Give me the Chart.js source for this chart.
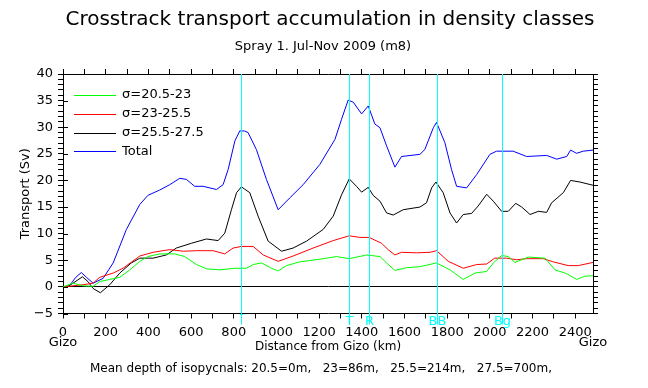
<!DOCTYPE html>
<html>
<head>
<meta charset="utf-8">
<script src="https://cdn.jsdelivr.net/npm/chart.js@4.4.0/dist/chart.umd.min.js"></script>
<style>
  html, body { margin: 0; padding: 0; background: #fff; }
</style>
</head>
<body>
<canvas id="transportChart" width="648" height="388"></canvas>
<script>
// distance along the track (km) and accumulated transport (Sv)
var greenKm = [0, 47, 94, 141, 172, 219, 266, 313, 360, 398, 453, 523, 570, 625, 672, 734, 805, 859, 891, 930, 977, 1008, 1047, 1109, 1203, 1281, 1341, 1422, 1485, 1516, 1555, 1609, 1672, 1750, 1813, 1875, 1930, 1985, 2016, 2055, 2086, 2117, 2180, 2258, 2305, 2359, 2406, 2445, 2483];
var greenSv = [0, 0.7, 0.2, 0.1, 1.0, 1.4, 1.8, 3.2, 4.8, 5.7, 6.2, 6.2, 5.7, 4.2, 3.4, 3.2, 3.5, 3.5, 4.2, 4.5, 3.5, 3.0, 4.0, 4.7, 5.2, 5.7, 5.3, 6.0, 5.7, 4.5, 3.1, 3.6, 3.8, 4.5, 3.2, 1.4, 2.6, 2.9, 4.5, 5.9, 5.7, 4.6, 5.6, 5.4, 3.2, 2.5, 1.4, 2.0, 2.1];

var redKm = [0, 47, 94, 141, 172, 235, 281, 360, 422, 500, 563, 625, 703, 758, 797, 836, 891, 938, 1008, 1078, 1172, 1266, 1341, 1391, 1434, 1492, 1523, 1555, 1586, 1656, 1719, 1750, 1805, 1875, 1938, 1985, 2023, 2078, 2125, 2172, 2250, 2297, 2367, 2414, 2483];
var redSv = [0, 0.2, 0.4, 0.7, 1.8, 2.6, 3.5, 5.8, 6.5, 7.0, 6.7, 6.8, 6.8, 6.2, 7.3, 7.6, 7.6, 6.0, 4.8, 5.8, 7.3, 8.7, 9.6, 9.3, 9.3, 8.2, 7.0, 6.0, 6.5, 6.4, 6.5, 6.8, 4.8, 3.5, 4.2, 4.3, 5.4, 5.4, 5.1, 5.3, 5.3, 4.7, 4.0, 4.0, 4.6];

var blackKm = [0, 20, 47, 91, 117, 141, 175, 219, 266, 320, 360, 422, 484, 531, 602, 672, 727, 758, 789, 813, 836, 875, 914, 961, 1024, 1078, 1141, 1219, 1266, 1305, 1341, 1375, 1399, 1430, 1453, 1485, 1516, 1547, 1594, 1672, 1703, 1727, 1747, 1781, 1813, 1844, 1875, 1914, 1945, 1985, 2016, 2055, 2086, 2121, 2149, 2188, 2227, 2266, 2289, 2344, 2378, 2422, 2483];
var blackSv = [0, 0, 0.7, 1.9, 1.0, -0.3, -1.1, 0.4, 2.6, 4.5, 5.4, 5.4, 6.0, 7.3, 8.2, 9.0, 8.7, 10.1, 14.5, 17.7, 18.8, 17.7, 13.3, 8.6, 6.7, 7.3, 8.6, 10.8, 13.3, 17.3, 20.3, 18.9, 17.8, 18.7, 17.2, 16.1, 13.9, 13.5, 14.5, 15.0, 15.8, 18.6, 19.7, 17.7, 13.9, 12.0, 13.6, 13.8, 15.2, 17.4, 16.1, 14.2, 14.2, 15.7, 15.0, 13.6, 14.2, 14.0, 15.8, 17.7, 20.0, 19.7, 19.1];

var totalKm = [0, 30, 60, 86, 110, 141, 188, 235, 297, 360, 398, 453, 500, 547, 578, 617, 656, 719, 750, 774, 805, 828, 850, 867, 906, 953, 1008, 1062, 1125, 1203, 1274, 1305, 1336, 1360, 1399, 1430, 1461, 1485, 1516, 1555, 1586, 1672, 1695, 1735, 1750, 1789, 1820, 1844, 1891, 1938, 2000, 2031, 2109, 2172, 2266, 2313, 2360, 2378, 2406, 2437, 2483];
var totalSv = [0, 0.2, 1.8, 2.7, 1.8, 0.7, 1.6, 4.5, 10.8, 15.5, 17.2, 18.2, 19.2, 20.4, 20.2, 18.9, 18.9, 18.3, 19.2, 22.1, 27.4, 29.3, 29.3, 29.0, 25.8, 20.2, 14.5, 16.7, 19.2, 23.0, 27.7, 31.5, 35.1, 34.7, 32.5, 34.0, 30.6, 29.9, 26.5, 22.5, 24.5, 24.9, 25.8, 29.9, 30.9, 27.1, 22.1, 18.9, 18.6, 21.1, 24.9, 25.5, 25.5, 24.5, 24.7, 24.0, 24.5, 25.7, 25.1, 25.5, 25.7];

var seriesLabels = ["\u03c3=20.5-23", "\u03c3=23-25.5", "\u03c3=25.5-27.5", "Total"];
var seriesColors = ["#00ff00", "#ff0000", "#000000", "#0000ff"];

// section markers along the track
var markerKm = [833, 1341, 1434, 1753, 2058];
var markerLabels = ["-", "T", "R", "BB", "Bg"];

var xMax = 2483;
var FONT = "'DejaVu Sans', sans-serif";
var THIN = "'DejaVu Sans ExtraLight', 'DejaVu Sans', sans-serif";

function pairs(xs, ys) {
    return xs.map(function (x, i) { return { x: x, y: ys[i] }; });
}

var extras = {
    id: "extras",
    afterDatasetsDraw: function (chart) {
        var ctx = chart.ctx;
        var x = chart.scales.x;
        var y = chart.scales.y;
        var area = chart.chartArea;
        ctx.save();

        // major y ticks also poke into the plot
        ctx.strokeStyle = "#000";
        ctx.lineWidth = 1;
        for (var v = -5; v <= 40; v += 5) {
            var py = Math.round(y.getPixelForValue(v)) + 0.5;
            ctx.beginPath();
            ctx.moveTo(area.left, py);
            ctx.lineTo(area.left + 5, py);
            ctx.stroke();
        }

        ctx.strokeStyle = "#00ffff";
        ctx.fillStyle = "#00ffff";
        ctx.font = "13px " + FONT;
        ctx.textAlign = "center";
        markerKm.forEach(function (km, i) {
            var px = Math.round(x.getPixelForValue(km)) + 0.5;
            ctx.beginPath();
            ctx.moveTo(px, area.top);
            ctx.lineTo(px, area.bottom + 11);
            ctx.stroke();
            if (i === 0) {
                ctx.textBaseline = "middle";
                ctx.fillText(markerLabels[i], px, area.bottom + 1.5);
            } else {
                ctx.textBaseline = "alphabetic";
                ctx.fillText(markerLabels[i], px, area.bottom + 11);
            }
        });
        ctx.restore();
    },
    afterDraw: function (chart) {
        var ctx = chart.ctx;
        var area = chart.chartArea;
        var x = chart.scales.x;
        ctx.save();
        ctx.fillStyle = "#000";
        ctx.textAlign = "center";
        ctx.textBaseline = "middle";

        ctx.font = "20px " + THIN;
        ctx.fillText("Crosstrack transport accumulation in density classes", 330, 20);
        ctx.font = "13px " + FONT;
        ctx.fillText("Spray 1. Jul-Nov 2009 (m8)", 323, 47);

        ctx.fillText("Gizo", x.getPixelForValue(0), 343);
        ctx.fillText("Gizo", x.getPixelForValue(xMax), 343);

        ctx.font = "12px " + FONT;
        ctx.fillText("Distance from Gizo (km)", 328, 347);
        ctx.fillText("Mean depth of isopycnals: 20.5=0m,   23=86m,   25.5=214m,   27.5=700m,", 321, 369);

        ctx.save();
        ctx.translate(26, (area.top + area.bottom) / 2);
        ctx.rotate(-Math.PI / 2);
        ctx.font = "13px " + FONT;
        ctx.fillText("Transport (Sv)", 0, 0);
        ctx.restore();

        // legend inside the plot
        ctx.font = "13px " + FONT;
        ctx.textAlign = "left";
        chart.data.datasets.forEach(function (ds, i) {
            var ly = 95 + i * 18.8;
            ctx.strokeStyle = ds.borderColor;
            ctx.lineWidth = 1;
            ctx.beginPath();
            ctx.moveTo(74, Math.round(ly) + 0.5);
            ctx.lineTo(116, Math.round(ly) + 0.5);
            ctx.stroke();
            ctx.fillStyle = "#000";
            ctx.fillText(ds.label, 122, ly);
        });
        ctx.restore();
    }
};

var datasets = [
    pairs(greenKm, greenSv),
    pairs(redKm, redSv),
    pairs(blackKm, blackSv),
    pairs(totalKm, totalSv)
].map(function (d, i) {
    return {
        label: seriesLabels[i],
        data: d,
        borderColor: seriesColors[i],
        borderWidth: 1,
        pointRadius: 0,
        tension: 0,
        fill: false
    };
});

var tickFont = { family: FONT, size: 13 };

function xAxis(position, showLabels, size) {
    return {
        type: "linear",
        position: position,
        min: 0,
        max: xMax,
        afterFit: function (s) { s.height = size; },
        ticks: {
            stepSize: 100,
            autoSkip: false,
            maxRotation: 0,
            includeBounds: false,
            padding: 6,
            color: "#000",
            font: tickFont,
            callback: function (v) { return showLabels && v % 200 === 0 ? String(v) : ""; }
        },
        grid: { drawOnChartArea: false, tickLength: 5, tickColor: "#000" },
        border: { color: "#000", width: 1 }
    };
}

function yAxis(position, showLabels, size) {
    return {
        type: "linear",
        position: position,
        min: -5,
        max: 40,
        afterFit: function (s) { s.width = size; },
        ticks: {
            stepSize: 1,
            autoSkip: false,
            padding: 5,
            color: "#000",
            font: tickFont,
            callback: function (v) {
                if (!showLabels || v % 5 !== 0) return "";
                return String(v).replace("-", "\u2212");
            }
        },
        grid: {
            drawOnChartArea: showLabels,
            color: function (c) { return c.tick && c.tick.value === 0 ? "#000" : "rgba(0,0,0,0)"; },
            tickLength: 5,
            tickColor: "#000"
        },
        border: { color: "#000", width: 1 }
    };
}

new Chart(document.getElementById("transportChart").getContext("2d"), {
    type: "line",
    data: { datasets: datasets },
    options: {
        responsive: false,
        animation: false,
        layout: { padding: 0 },
        plugins: {
            legend: { display: false },
            title: { display: false },
            tooltip: { enabled: false }
        },
        scales: {
            x: xAxis("bottom", true, 74.5),
            xTop: xAxis("top", false, 74),
            y: yAxis("left", true, 63),
            yRight: yAxis("right", false, 55)
        }
    },
    plugins: [extras]
});
</script>
</body>
</html>
